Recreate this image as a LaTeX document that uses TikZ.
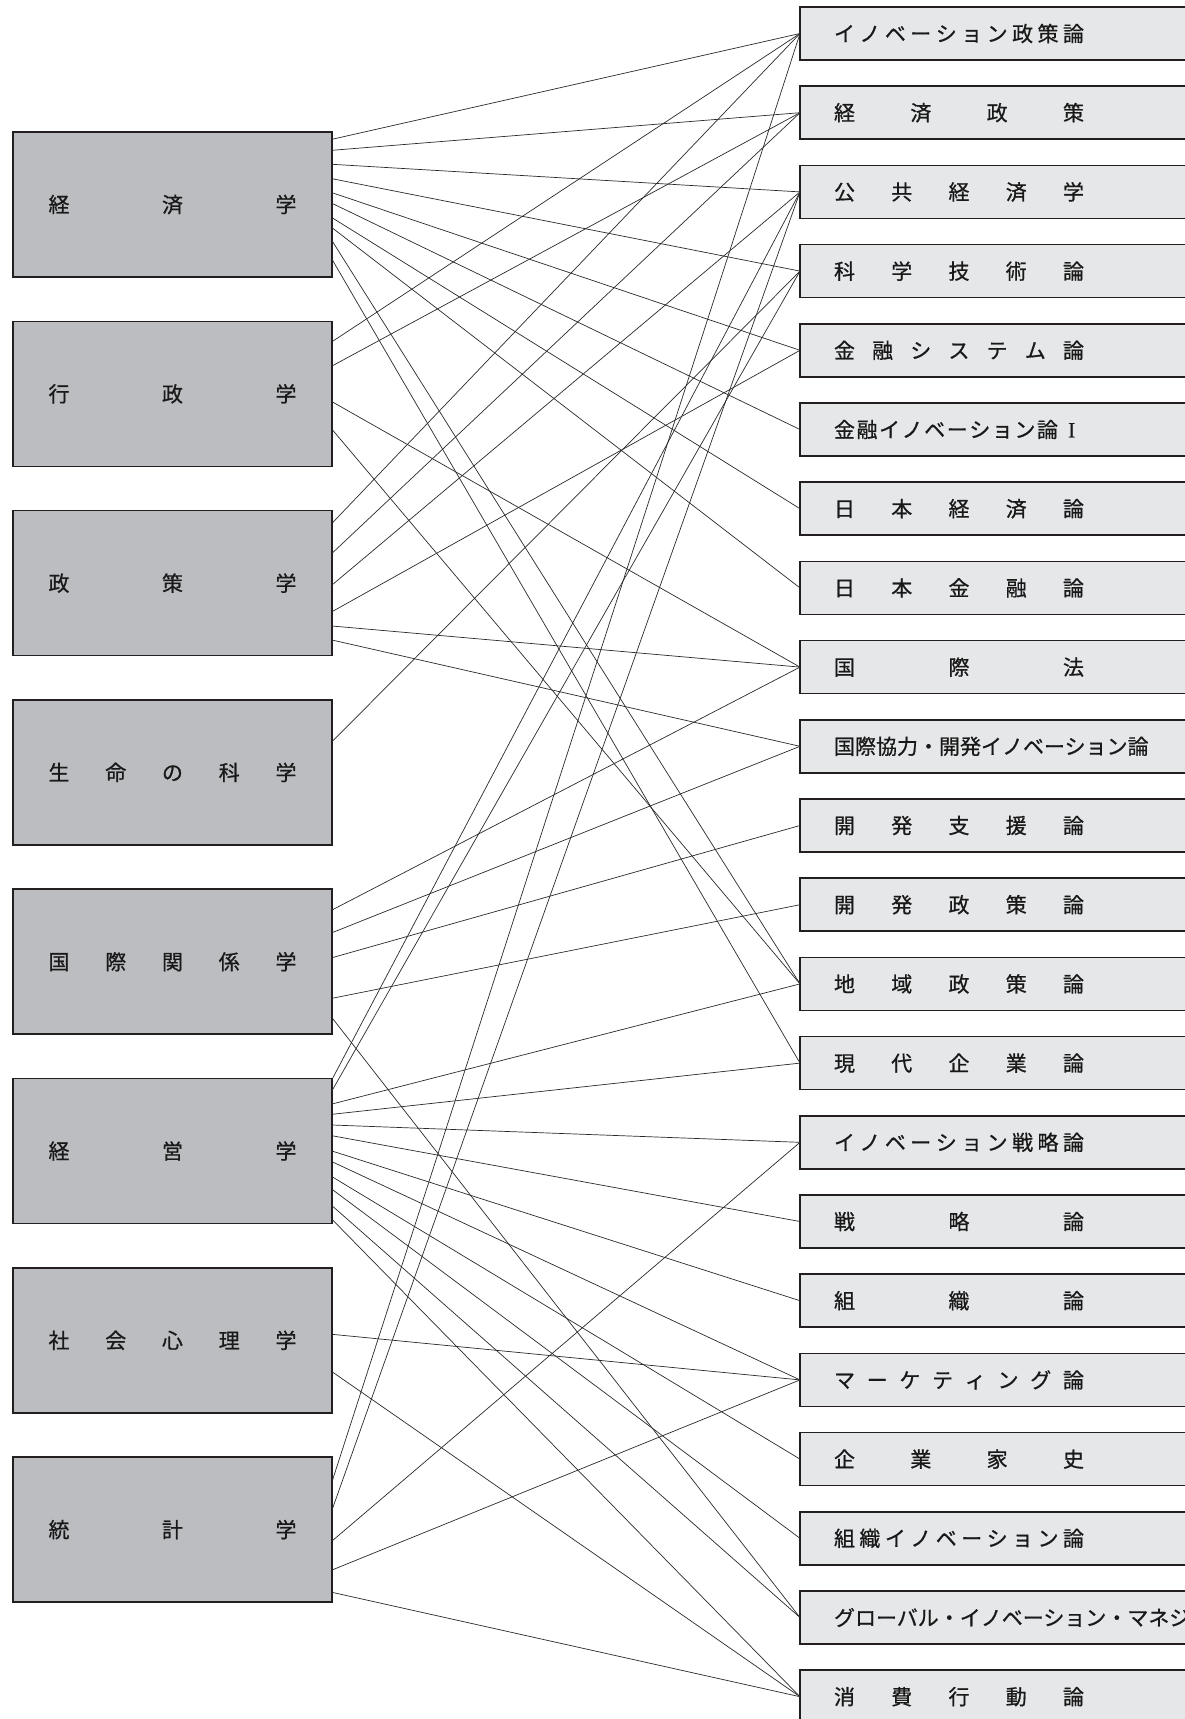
\documentclass[tikz,border=0pt]{standalone}
\usepackage{fontspec}
\newfontfamily\jp[FakeBold=0.7]{Noto Sans CJK JP}
\newfontfamily\romanI[FakeBold=0.5]{Liberation Serif}
\definecolor{lfill}{HTML}{BCBDC1}
\definecolor{rfill}{HTML}{E6E7E9}
\definecolor{edge}{HTML}{231F20}
\definecolor{wire}{HTML}{2A2A2A}
\def\spr#1{\sprA#1\relax}
\def\sprA#1#2{#1\ifx\relax#2\else\hfil\expandafter\sprA\expandafter#2\fi}
\newcommand{\lt}[1]{\hbox to 248pt{\spr{#1}}}
\newcommand{\rt}[1]{\hbox to 500pt{\hskip34pt\hbox to 250pt{\spr{#1}}\hss}}
\newcommand{\rn}[1]{\hbox to 500pt{\hskip34pt #1\hss}}
\tikzset{
  lbox/.style={draw=edge, line width=1.5pt, fill=lfill, minimum width=319pt, minimum height=145pt,
    inner sep=0pt, outer sep=0pt, anchor=north west, font=\jp\fontsize{21}{21}\selectfont, text=black!90},
  rbox/.style={draw=edge, line width=1.5pt, fill=rfill, minimum width=500pt, minimum height=53pt,
    inner sep=0pt, outer sep=0pt, anchor=north west, font=\jp\fontsize{21}{21}\selectfont, text=black!90},
  conn/.style={draw=wire, line width=0.7pt}
}
\begin{document}
\begin{tikzpicture}[x=1pt,y=-1pt]
\fill[white] (0,0) rectangle (1185,1719);
\useasboundingbox (0,0) rectangle (1185,1719);
% left boxes
\node[lbox] (L1) at (13,132.0) {\lt{経済学}};
\node[lbox] (L2) at (13,321.3) {\lt{行政学}};
\node[lbox] (L3) at (13,510.6) {\lt{政策学}};
\node[lbox] (L4) at (13,699.9) {\lt{生命の科学}};
\node[lbox] (L5) at (13,889.2) {\lt{国際関係学}};
\node[lbox] (L6) at (13,1078.5) {\lt{経営学}};
\node[lbox] (L7) at (13,1267.8) {\lt{社会心理学}};
\node[lbox] (L8) at (13,1457.1) {\lt{統計学}};
% right boxes
\node[rbox] (R1) at (800,7.0) {\rt{イノベーション政策論}};
\node[rbox] (R2) at (800,86.2) {\rt{経済政策}};
\node[rbox] (R3) at (800,165.4) {\rt{公共経済学}};
\node[rbox] (R4) at (800,244.6) {\rt{科学技術論}};
\node[rbox] (R5) at (800,323.8) {\rt{金融システム論}};
\node[rbox] (R6) at (800,403.0) {\hbox to 500pt{\hskip34pt\hbox to 224pt{\spr{金融イノベーション論}}\hskip10pt{\romanI\fontsize{22}{22}\selectfont I}\hss}};
\node[rbox] (R7) at (800,482.2) {\rt{日本経済論}};
\node[rbox] (R8) at (800,561.4) {\rt{日本金融論}};
\node[rbox] (R9) at (800,640.6) {\rt{国際法}};
\node[rbox] (R10) at (800,719.8) {\rn{国際協力・開発イノベーション論}};
\node[rbox] (R11) at (800,799.0) {\rt{開発支援論}};
\node[rbox] (R12) at (800,878.2) {\rt{開発政策論}};
\node[rbox] (R13) at (800,957.4) {\rt{地域政策論}};
\node[rbox] (R14) at (800,1036.6) {\rt{現代企業論}};
\node[rbox] (R15) at (800,1115.8) {\rt{イノベーション戦略論}};
\node[rbox] (R16) at (800,1195.0) {\rt{戦略論}};
\node[rbox] (R17) at (800,1274.2) {\rt{組織論}};
\node[rbox] (R18) at (800,1353.4) {\rt{マーケティング論}};
\node[rbox] (R19) at (800,1432.6) {\rt{企業家史}};
\node[rbox] (R20) at (800,1511.8) {\rt{組織イノベーション論}};
\node[rbox] (R21) at (800,1591.0) {\rn{グローバル・イノベーション・マネジメント}};
\node[rbox] (R22) at (800,1670.2) {\rt{消費行動論}};
% connectors
\foreach \l/\o/\r in {
  L1/7.3/R1, L1/18.3/R2, L1/32.3/R3, L1/46.7/R4, L1/60.7/R5, L1/71.3/R6, L1/85.7/R7, L1/95.7/R8, L1/108.7/R13, L1/127.3/R14,
  L2/20.4/R1, L2/44.7/R2, L2/80.4/R9, L2/108/R13,
  L3/12.7/R1, L3/42.7/R2, L3/74.4/R3, L3/101.1/R5, L3/115.4/R9, L3/129.4/R10,
  L4/41.8/R4,
  L5/20.8/R9, L5/43.5/R10, L5/68.5/R11, L5/109.1/R12, L5/128.5/R21,
  L6/1/R3, L6/12.2/R4, L6/25.5/R13, L6/35.8/R14, L6/46.5/R15, L6/57.2/R16, L6/72.5/R17, L6/83.2/R18, L6/98.2/R19, L6/110.8/R20, L6/127.2/R21, L6/140.8/R22,
  L7/66.5/R18, L7/103.9/R22,
  L8/24.6/R1, L8/52.9/R3, L8/83.9/R15, L8/112.9/R18, L8/135.2/R22}
  \draw[conn] ([yshift=-\o pt]\l.north east) -- (\r.west);
\end{tikzpicture}
\end{document}
